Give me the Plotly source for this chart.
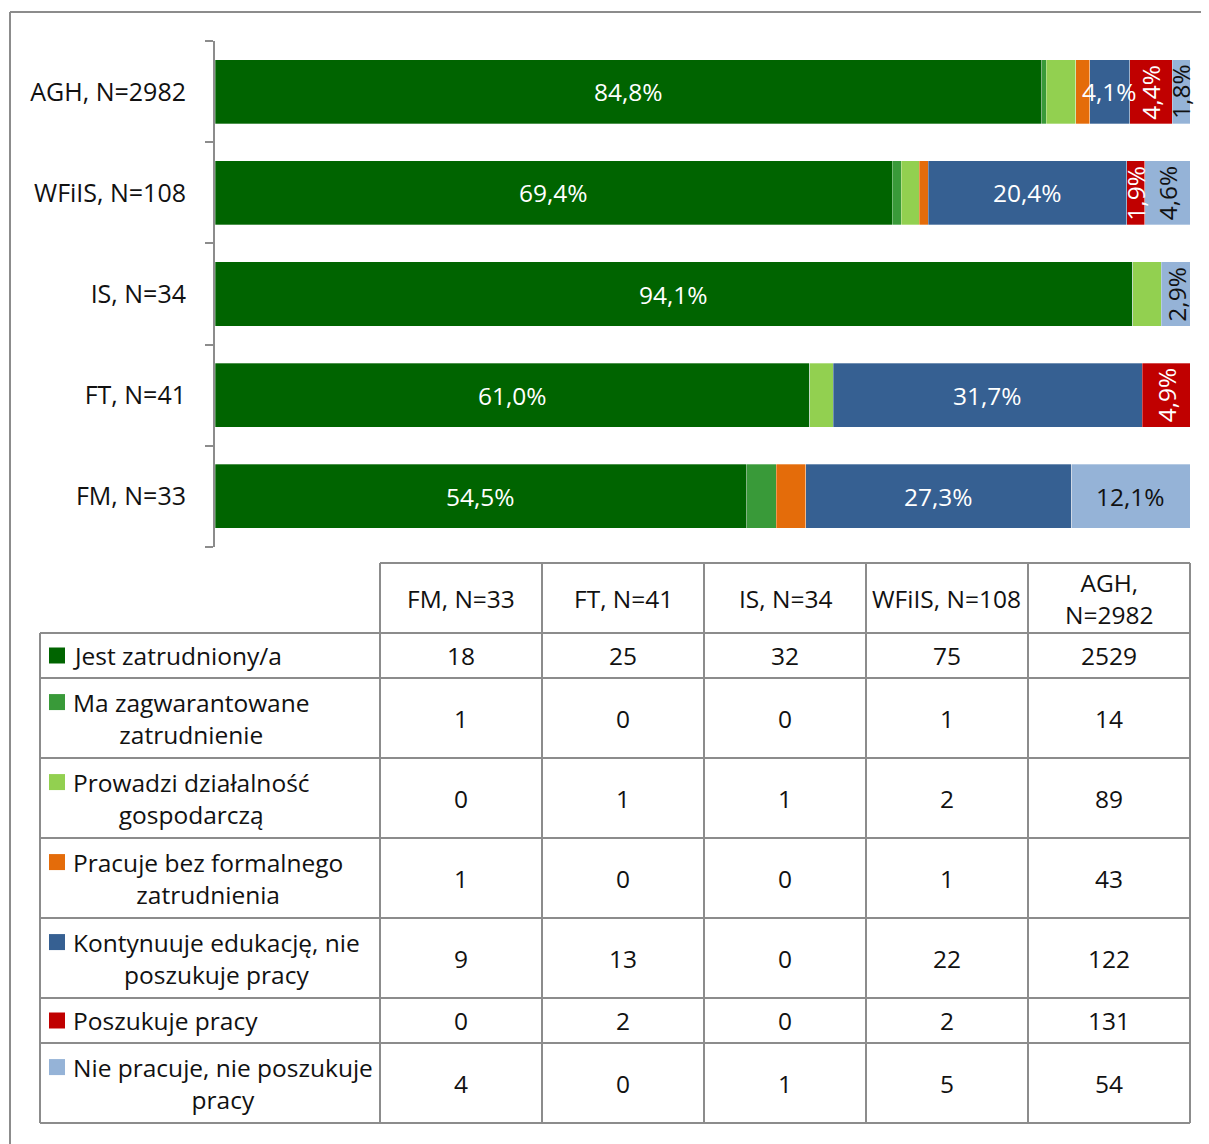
import plotly.graph_objects as go

# ---------------- DATA ----------------
categories = ["FM, N=33", "FT, N=41", "IS, N=34", "WFiIS, N=108", "AGH, N=2982"]
table_headers = ["FM, N=33", "FT, N=41", "IS, N=34", "WFiIS, N=108", "AGH,<br>N=2982"]
series_names = [
    "Jest zatrudniony/a",
    "Ma zagwarantowane<br>zatrudnienie",
    "Prowadzi działalność<br>gospodarczą",
    "Pracuje bez formalnego<br>zatrudnienia",
    "Kontynuuje edukację, nie<br>poszukuje pracy",
    "Poszukuje pracy",
    "Nie pracuje, nie poszukuje<br>pracy",
]
jest_zatrudniony = [18, 25, 32, 75, 2529]
ma_zagwarantowane = [1, 0, 0, 1, 14]
prowadzi_dzialalnosc = [0, 1, 1, 2, 89]
pracuje_bez_formalnego = [1, 0, 0, 1, 43]
kontynuuje_edukacje = [9, 13, 0, 22, 122]
poszukuje_pracy = [0, 2, 0, 2, 131]
nie_pracuje = [4, 0, 1, 5, 54]

series_counts = [jest_zatrudniony, ma_zagwarantowane, prowadzi_dzialalnosc,
                 pracuje_bez_formalnego, kontynuuje_edukacje, poszukuje_pracy, nie_pracuje]

# ---------------- STYLE ----------------
colors = ["#006400", "#399A39", "#92D050", "#E46C0A", "#366092", "#C00000", "#95B3D7"]
label_colors = ["white", "white", "white", "white", "white", "white", "#111111"]
labeled_series = [0, 4, 5, 6]
FONT = "Open Sans"
FS = 24.5
GRAY = "#8c8c8c"
TXT = "#111111"

OFF = 8  # page body margin
W, H = 1209 - OFF, 1144 - OFF
def px(x): return (x - OFF) / W
def py(y): return 1 - (y - OFF) / H

totals = [sum(s[j] for s in series_counts) for j in range(len(categories))]
pcts = [[s[j] / totals[j] * 100 for j in range(len(categories))] for s in series_counts]

fig = go.Figure()
for i, name in enumerate(series_names):
    fig.add_trace(go.Bar(
        x=pcts[i], y=categories, orientation="h", name=name.replace("<br>", " "),
        marker=dict(color=colors[i], line=dict(color="rgba(255,255,255,0.5)", width=0.6)),
        width=0.635, showlegend=False, hoverinfo="x+y+name",
    ))

annotations = []
# bar labels
for j, cat in enumerate(categories):
    cum = 0
    for i in range(len(series_names)):
        v = pcts[i][j]
        if i in labeled_series and v > 0:
            rot = -90 if (i >= 5 and v < 10) else 0
            annotations.append(dict(
                x=cum + v / 2, y=cat, xref="x", yref="y", showarrow=False,
                text=f"{v:.1f}".replace(".", ",") + "%", textangle=rot,
                font=dict(family=FONT, size=FS, color=label_colors[i]),
                xanchor="center", yanchor="middle",
            ))
        cum += v

shapes = []
# outer frame (only top & left visible)
shapes.append(dict(type="line", xref="paper", yref="paper", x0=px(10), x1=px(1300), y0=py(12), y1=py(12),
                   line=dict(color=GRAY, width=2)))
shapes.append(dict(type="line", xref="paper", yref="paper", x0=px(10), x1=px(10), y0=py(12), y1=py(1200),
                   line=dict(color=GRAY, width=2)))

# ---------------- TABLE ----------------
col_x = [380, 542, 704, 866, 1028, 1190]
left_x = 40
header_top, header_bot = 563, 633
row_h = []
for name in series_names:
    nl = name.count("<br>") + 1
    row_h.append(45 if nl == 1 else 80)
row_y = [header_bot]
for h in row_h:
    row_y.append(row_y[-1] + h)

def hline(x0, x1, y):
    shapes.append(dict(type="line", xref="paper", yref="paper", x0=px(x0), x1=px(x1), y0=py(y), y1=py(y),
                       line=dict(color=GRAY, width=2)))
def vline(x, y0, y1):
    shapes.append(dict(type="line", xref="paper", yref="paper", x0=px(x), x1=px(x), y0=py(y0), y1=py(y1),
                       line=dict(color=GRAY, width=2)))

hline(col_x[0], col_x[-1], header_top)
for y in row_y:
    hline(left_x, col_x[-1], y)
vline(left_x, row_y[0], row_y[-1])
for x in col_x:
    vline(x, header_top, row_y[-1])

# headers
for k, h in enumerate(table_headers):
    annotations.append(dict(
        x=px((col_x[k] + col_x[k + 1]) / 2), y=py((header_top + header_bot) / 2),
        xref="paper", yref="paper", showarrow=False, text=h, align="center",
        xanchor="center", yanchor="middle", font=dict(family=FONT, size=FS, color=TXT)))

LH = FS * 1.3
for i, name in enumerate(series_names):
    yc = (row_y[i] + row_y[i + 1]) / 2
    nl = name.count("<br>") + 1
    first = yc - (nl - 1) * LH / 2
    shapes.append(dict(type="rect", xref="paper", yref="paper",
                       x0=px(49), x1=px(65), y0=py(first - 8), y1=py(first + 8),
                       fillcolor=colors[i], line=dict(width=0)))
    annotations.append(dict(
        x=px(71), y=py(yc), xref="paper", yref="paper", showarrow=False, text=name,
        align="center", xanchor="left", yanchor="middle",
        font=dict(family=FONT, size=FS, color=TXT)))
    for k in range(len(categories)):
        annotations.append(dict(
            x=px((col_x[k] + col_x[k + 1]) / 2), y=py(yc), xref="paper", yref="paper",
            showarrow=False, text=str(series_counts[i][k]), xanchor="center", yanchor="middle",
            font=dict(family=FONT, size=FS, color=TXT)))

fig.update_layout(
    width=W, height=H, margin=dict(l=0, r=0, t=0, b=0),
    paper_bgcolor="white", plot_bgcolor="white",
    barmode="stack",
    font=dict(family=FONT, size=FS, color=TXT),
    xaxis=dict(domain=[px(215), px(1190)], range=[0, 100], visible=False, fixedrange=True),
    yaxis=dict(domain=[py(547), py(41)], range=[-0.502, 4.502], type="category",
               showline=True, linecolor=GRAY, linewidth=2,
               ticks="outside", tickson="boundaries", ticklen=8, tickcolor=GRAY, tickwidth=2,
               ticklabelstandoff=22, showgrid=False, zeroline=False,
               tickfont=dict(family=FONT, size=25, color=TXT)),
    annotations=annotations, shapes=shapes,
)
fig.write_html("out.html")
